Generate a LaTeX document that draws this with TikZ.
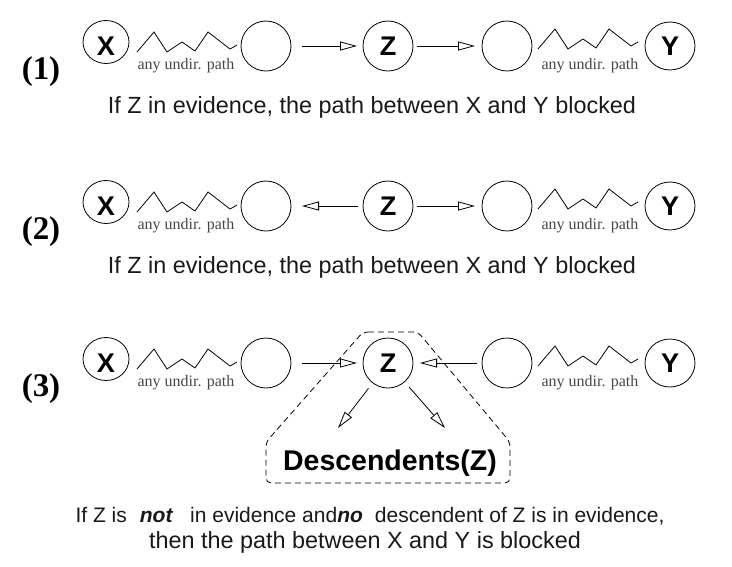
\documentclass[tikz,border=0pt]{standalone}
\usepackage{fontspec}
\setmainfont{Liberation Serif}
\setsansfont{Liberation Sans}
\usetikzlibrary{arrows.meta,calc,shapes.geometric}

% zigzag standing for an arbitrary undirected path
\newcommand\undirpath[1]{%
  \draw[lw] #1 -- ++(17,-20) -- ++(13,20) -- ++(15,-10) -- ++(13,9)
    -- ++(13,-19) -- ++(22,17) -- ++(7,-4);}

\begin{document}
\begin{tikzpicture}[x=1pt,y=-1pt,
  every node/.style={inner sep=0pt, outer sep=0pt},
  lw/.style={line width=0.8pt},
  var/.style={ellipse, draw, lw, minimum width=50pt, minimum height=50pt,
    font=\sffamily\bfseries\fontsize{27}{27}\selectfont},
  endvar/.style={var, minimum width=46pt, minimum height=43pt,
    text height=27pt, text depth=0pt},
  blank/.style={var},
  link/.style={lw, -{Triangle[open, length=17pt, width=9pt, line width=0.8pt]}},
  pathlbl/.style={font=\fontsize{16}{16}\selectfont, text=black!72},
  rowno/.style={font=\bfseries\fontsize{33}{33}\selectfont},
  caption/.style={font=\sffamily\fontsize{23.4}{28}\selectfont, text=black!90},
]
\useasboundingbox (0,0) rectangle (732,566);

% ---------- (1) serial connection ----------
\node[endvar] (X1) at (106,42) {X};
\node[blank]  (A1) at (266,46) {};
\node[var]    (Z1) at (388,46) {Z};
\node[blank]  (B1) at (507,46) {};
\node[var, minimum height=48pt] (Y1) at (670,46) {Y};
\undirpath{($(X1.east)+(8,10)$)}
\undirpath{($(B1.east)+(6,3)$)}
\node[pathlbl] at (186,66) {any undir. path};
\node[pathlbl] at (590,66) {any undir. path};
\draw[link, shorten <=11pt, shorten >=6pt] (A1) -- (Z1);
\draw[link, shorten <=4pt, shorten >=7pt] (Z1) -- (B1);
\node[rowno] at (41,72) {(1)};
\node[caption] at (372,107) {If Z in evidence, the path between X and Y blocked};

% ---------- (2) diverging connection ----------
\begin{scope}[shift={(0,160)}]
\node[endvar] (X2) at (106,42) {X};
\node[blank]  (A2) at (266,46) {};
\node[var]    (Z2) at (388,46) {Z};
\node[blank]  (B2) at (507,46) {};
\node[var, minimum height=48pt] (Y2) at (670,46) {Y};
\undirpath{($(X2.east)+(8,10)$)}
\undirpath{($(B2.east)+(6,3)$)}
\node[pathlbl] at (186,66) {any undir. path};
\node[pathlbl] at (590,66) {any undir. path};
\draw[link, shorten <=5pt, shorten >=11pt] (Z2) -- (A2);
\draw[link, shorten <=4pt, shorten >=7pt] (Z2) -- (B2);
\node[rowno] at (41,72) {(2)};
\node[caption] at (372,107) {If Z in evidence, the path between X and Y blocked};
\end{scope}

% ---------- (3) converging connection ----------
\begin{scope}[shift={(0,317)}]
\node[endvar] (X3) at (106,42) {X};
\node[blank]  (A3) at (266,46) {};
\node[var]    (Z3) at (388,46) {Z};
\node[blank]  (B3) at (507,46) {};
\node[var, minimum height=48pt] (Y3) at (670,46) {Y};
\undirpath{($(X3.east)+(8,10)$)}
\undirpath{($(B3.east)+(6,3)$)}
\node[pathlbl] at (186,66) {any undir. path};
\node[pathlbl] at (590,66) {any undir. path};
\draw[link, shorten <=11pt, shorten >=6pt] (A3) -- (Z3);
\draw[link, shorten <=5pt, shorten >=7pt] (B3) -- (Z3);
\node[rowno] at (41,72) {(3)};
\coordinate (D1) at (338,111);
\coordinate (D2) at (445,111);
\draw[link, shorten <=7pt] (Z3) -- (D1);
\draw[link, shorten <=7pt] (Z3) -- (D2);
\end{scope}

% descendants region
\draw[lw, dashed, dash pattern=on 6pt off 4pt, rounded corners=5pt]
  (363,332) -- (418,332) -- (510,442) -- (510,483) -- (266,483) -- (266,442) -- cycle;
\node[font=\sffamily\bfseries\fontsize{28.5}{28.5}\selectfont] (desc) at (390,463) {Descendents(Z)};

% condition for the converging case
\node[caption, font=\sffamily\fontsize{21}{26}\selectfont] at (370,516) {If Z is\hspace{13pt}\textbf{\textit{not}}\hspace{17pt}in evidence and\textbf{\textit{no}}\hspace{12pt}descendent of Z is in evidence,};
\node[caption] at (365,542) {then the path between X and Y is blocked};
\end{tikzpicture}
\end{document}
